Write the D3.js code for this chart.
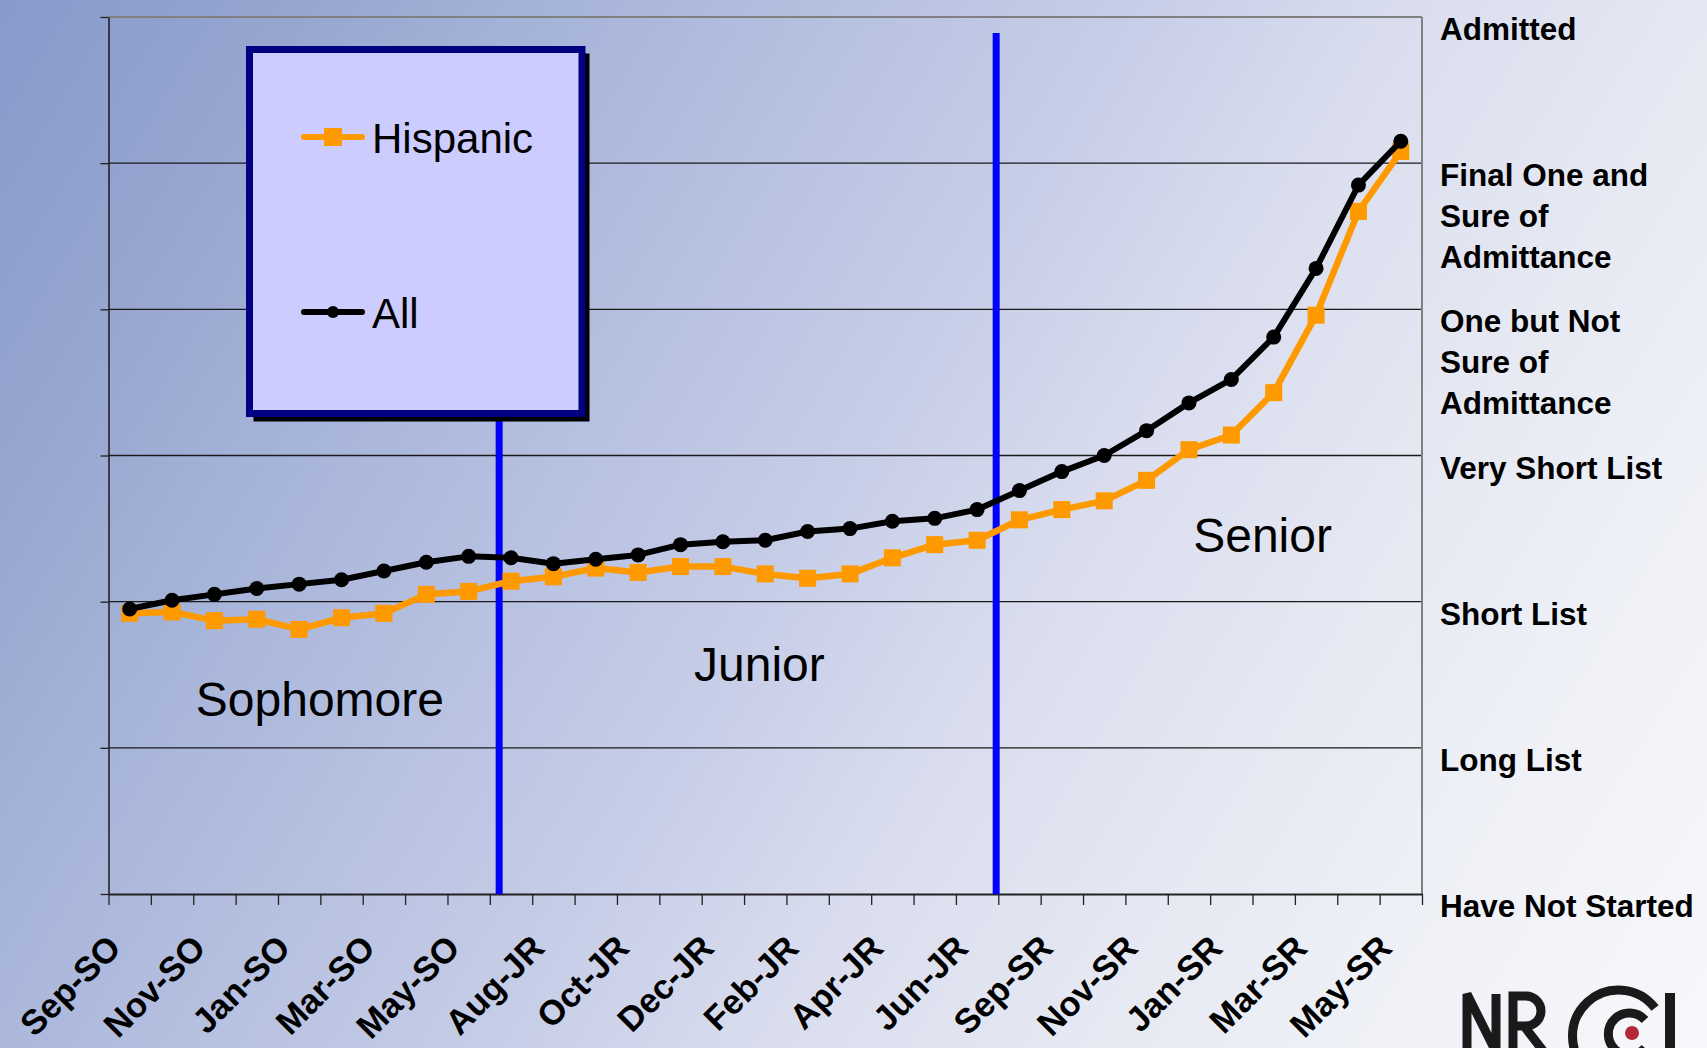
<!DOCTYPE html>
<html>
<head>
<meta charset="utf-8">
<script src="https://cdn.jsdelivr.net/npm/d3@7"></script>
<style>
  body { margin: 0; overflow: hidden; }
  svg { display: block; font-family: "Liberation Sans", Arial, sans-serif; }
</style>
</head>
<body>
<svg id="chart"></svg>
<script>
var categories = ["Sep-SO", "Oct-SO", "Nov-SO", "Dec-SO", "Jan-SO", "Feb-SO", "Mar-SO", "Apr-SO", "May-SO", "Jun-SO",
    "Aug-JR", "Sep-JR", "Oct-JR", "Nov-JR", "Dec-JR", "Jan-JR", "Feb-JR", "Mar-JR", "Apr-JR", "May-JR", "Jun-JR",
    "Aug-SR", "Sep-SR", "Oct-SR", "Nov-SR", "Dec-SR", "Jan-SR", "Feb-SR", "Mar-SR", "Apr-SR", "May-SR"];

var hispanic = [1.92, 1.93, 1.87, 1.88, 1.81, 1.89, 1.92, 2.05, 2.07, 2.14, 2.17,
    2.23, 2.20, 2.24, 2.24, 2.19, 2.16, 2.19, 2.30, 2.39, 2.42,
    2.56, 2.63, 2.69, 2.83, 3.04, 3.14, 3.43, 3.96, 4.67, 5.08];

var all = [1.95, 2.01, 2.05, 2.09, 2.12, 2.15, 2.21, 2.27, 2.31, 2.30, 2.26,
    2.29, 2.32, 2.39, 2.41, 2.42, 2.48, 2.50, 2.55, 2.57, 2.63,
    2.76, 2.89, 3.00, 3.17, 3.36, 3.52, 3.81, 4.28, 4.85, 5.15];

var seriesNames = ["Hispanic", "All"];

// stages of the college search, bottom to top
var levels = [["Have Not Started"], ["Long List"], ["Short List"], ["Very Short List"],
    ["One but Not", "Sure of", "Admittance"], ["Final One and", "Sure of", "Admittance"], ["Admitted"]];

// where one school year ends and the next starts (category index), and how high the divider goes
var yearBreaks = [8.72, 20.45];
var yearBreakTop = [4, 5.89];
var yearNames = ["Sophomore", "Junior", "Senior"];
var yearIndex = [1.56, 13.32, 25.1];
var yearLevel = [1.22, 1.46, 2.34];

var width = 1707, height = 1048;
var margin = {top: 17, right: 285, bottom: 154, left: 108.5};
var plotW = width - margin.left - margin.right;
var plotH = height - margin.top - margin.bottom;

var svg = d3.select("#chart")
    .attr("width", width)
    .attr("height", height);

var defs = svg.append("defs");
var grad = defs.append("linearGradient")
    .attr("id", "bg")
    .attr("gradientUnits", "userSpaceOnUse")
    .attr("x1", 0).attr("y1", 0)
    .attr("x2", width).attr("y2", height);
[[0, "#889acb"], [0.13, "#97a6d0"], [0.25, "#a8b5da"], [0.48, "#c6cde7"],
 [0.6, "#d9ddee"], [0.72, "#e5e8f2"], [0.85, "#eff1f7"], [1, "#f7f8fb"]].forEach(function(s) {
    grad.append("stop").attr("offset", s[0]).attr("stop-color", s[1]);
});

svg.append("rect")
    .attr("width", width)
    .attr("height", height)
    .attr("fill", "url(#bg)");

var chart = svg.append("g")
    .attr("transform", "translate(" + margin.left + "," + margin.top + ")");

var x = d3.scaleLinear()
    .domain([-0.5, categories.length - 0.5])
    .range([0, plotW]);

var y = d3.scaleLinear()
    .domain([0, levels.length - 1])
    .range([plotH, 0]);

// gridlines
chart.append("g")
    .selectAll("line")
    .data(d3.range(1, levels.length - 1))
    .enter().append("line")
    .attr("x1", 0)
    .attr("x2", plotW)
    .attr("y1", function(d) { return y(d); })
    .attr("y2", function(d) { return y(d); })
    .attr("stroke", "#1a1a1a")
    .attr("stroke-width", 1.3);

// top and right border
chart.append("line")
    .attr("x1", 0).attr("x2", plotW)
    .attr("y1", y(levels.length - 1)).attr("y2", y(levels.length - 1))
    .attr("stroke", "#808080")
    .attr("stroke-width", 2);
chart.append("line")
    .attr("x1", plotW).attr("x2", plotW)
    .attr("y1", 0).attr("y2", plotH)
    .attr("stroke", "#808080")
    .attr("stroke-width", 2);

// left axis (ticks only)
var yAxis = chart.append("g")
    .call(d3.axisLeft(y)
        .tickValues(d3.range(0, levels.length))
        .tickSizeInner(8)
        .tickSizeOuter(0)
        .tickFormat(""));
yAxis.select(".domain").attr("stroke", "#222").attr("stroke-width", 1.6);
yAxis.selectAll(".tick line").attr("stroke", "#222").attr("stroke-width", 1.3);

// bottom axis, ticks between categories
var xAxis = chart.append("g")
    .attr("transform", "translate(0," + plotH + ")")
    .call(d3.axisBottom(x)
        .tickValues(d3.range(-0.5, categories.length, 1))
        .tickSizeInner(11)
        .tickSizeOuter(0)
        .tickFormat(""));
xAxis.select(".domain").attr("stroke", "#222").attr("stroke-width", 1.8);
xAxis.selectAll(".tick line").attr("stroke", "#222").attr("stroke-width", 1.3);

// month labels, every other one
chart.append("g")
    .selectAll("text")
    .data(d3.range(0, categories.length, 2))
    .enter().append("text")
    .attr("transform", function(i) {
        return "translate(" + (x(i) - 7) + "," + (plotH + 56) + ") rotate(-45)";
    })
    .attr("text-anchor", "end")
    .attr("font-size", 34.5)
    .attr("font-weight", "bold")
    .attr("fill", "#000")
    .text(function(i) { return categories[i]; });

// year dividers
chart.append("g")
    .selectAll("line")
    .data(yearBreaks)
    .enter().append("line")
    .attr("x1", function(d) { return x(d); })
    .attr("x2", function(d) { return x(d); })
    .attr("y1", function(d, i) { return y(yearBreakTop[i]); })
    .attr("y2", plotH)
    .attr("stroke", "#0000ff")
    .attr("stroke-width", 7);

// year names
chart.append("g")
    .selectAll("text")
    .data(yearNames)
    .enter().append("text")
    .attr("x", function(d, i) { return x(yearIndex[i]); })
    .attr("y", function(d, i) { return y(yearLevel[i]); })
    .attr("font-size", 48)
    .attr("fill", "#000")
    .text(function(d) { return d; });

// series
var line = d3.line()
    .x(function(d, i) { return x(i); })
    .y(function(d) { return y(d); });

chart.append("path")
    .datum(hispanic)
    .attr("d", line)
    .attr("fill", "none")
    .attr("stroke", "#ff9900")
    .attr("stroke-width", 6.5)
    .attr("stroke-linejoin", "round");

chart.append("g")
    .selectAll("rect")
    .data(hispanic)
    .enter().append("rect")
    .attr("x", function(d, i) { return x(i) - 8.5; })
    .attr("y", function(d) { return y(d) - 8.5; })
    .attr("width", 17)
    .attr("height", 17)
    .attr("fill", "#ff9900");

chart.append("path")
    .datum(all)
    .attr("d", line)
    .attr("fill", "none")
    .attr("stroke", "#000")
    .attr("stroke-width", 6)
    .attr("stroke-linejoin", "round");

chart.append("g")
    .selectAll("circle")
    .data(all)
    .enter().append("circle")
    .attr("cx", function(d, i) { return x(i); })
    .attr("cy", function(d) { return y(d); })
    .attr("r", 7.5)
    .attr("fill", "#000");

// stage labels on the right
var stage = chart.append("g")
    .selectAll("text")
    .data(levels)
    .enter().append("text")
    .attr("x", plotW + 18)
    .attr("y", function(d, i) { return y(i) + 23; })
    .attr("font-size", 31.5)
    .attr("font-weight", "bold")
    .attr("fill", "#000");
stage.selectAll("tspan")
    .data(function(d) { return d; })
    .enter().append("tspan")
    .attr("x", plotW + 18)
    .attr("dy", function(d, i) { return i ? 41 : 0; })
    .text(function(d) { return d; });

// legend
var legend = svg.append("g")
    .attr("transform", "translate(246,46)");
legend.append("rect")
    .attr("x", 7.5).attr("y", 7.5)
    .attr("width", 336).attr("height", 368)
    .attr("fill", "#000");
legend.append("rect")
    .attr("x", 3.5).attr("y", 3.5)
    .attr("width", 332.5).attr("height", 364)
    .attr("fill", "#ccccff")
    .attr("stroke", "#000080")
    .attr("stroke-width", 7);

var item = legend.selectAll(".item")
    .data(seriesNames)
    .enter().append("g")
    .attr("class", "item")
    .attr("transform", function(d, i) { return "translate(0," + (91 + i * 175) + ")"; });
item.append("line")
    .attr("x1", 58).attr("x2", 116)
    .attr("stroke", function(d, i) { return i ? "#000" : "#ff9900"; })
    .attr("stroke-width", 6)
    .attr("stroke-linecap", "round");
item.filter(function(d, i) { return i === 0; })
    .append("rect")
    .attr("x", 78).attr("y", -9)
    .attr("width", 18).attr("height", 18)
    .attr("fill", "#ff9900");
item.filter(function(d, i) { return i === 1; })
    .append("circle")
    .attr("cx", 87).attr("r", 6)
    .attr("fill", "#000");
item.append("text")
    .attr("x", 126)
    .attr("y", 16)
    .attr("font-size", 42)
    .attr("fill", "#000")
    .text(function(d) { return d; });

// NRCCI logo, cut by the bottom edge
var logo = svg.append("g")
    .attr("fill", "none")
    .attr("stroke", "#1a1a1a")
    .attr("stroke-width", 9);
logo.append("path").attr("d", "M1467,1052 V994 L1496,1052 V994").attr("stroke-linejoin", "miter");
logo.append("path").attr("d", "M1513,1052 V996 H1526 A15,15 0 0 1 1526,1026 H1513 M1524,1026 L1544,1052");
logo.append("path").attr("d", "M1655,1008 A46,46 0 1 0 1655,1064");
logo.append("path").attr("d", "M1645,1020 A21,21 0 1 0 1645,1048");
logo.append("circle").attr("cx", 1632).attr("cy", 1033).attr("r", 7)
    .attr("fill", "#b5283a").attr("stroke", "none");
logo.append("rect").attr("x", 1665).attr("y", 993).attr("width", 10).attr("height", 60)
    .attr("fill", "#1a1a1a").attr("stroke", "none");
</script>
</body>
</html>
